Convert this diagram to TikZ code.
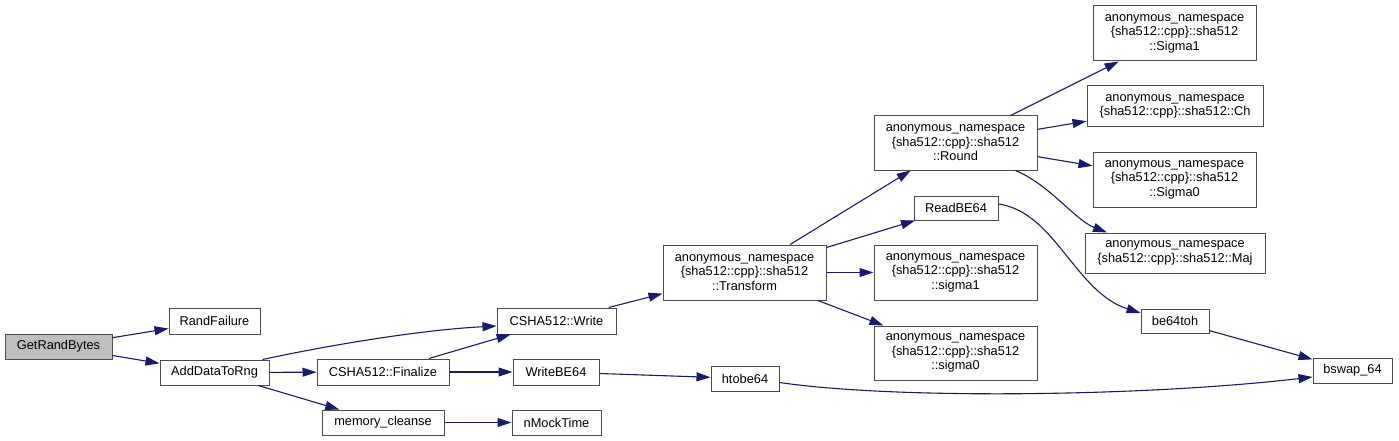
\documentclass[tikz,border=0pt]{standalone}
\usepackage{fontspec}
\setmainfont{Liberation Sans}
\usetikzlibrary{arrows.meta}
\definecolor{edgeblue}{RGB}{25,25,112}
\definecolor{rootgray}{RGB}{191,191,191}

\begin{document}
\begin{tikzpicture}[x=1pt, y=-1pt,
	fn/.style={draw=black!70, line width=1pt, fill=white, inner sep=0pt, align=center,
		font=\fontsize{12.8}{14.5}\selectfont},
	call/.style={draw=edgeblue, line width=1.1pt, -{Triangle[length=14pt,width=9pt]}, fill=none}]
	\useasboundingbox (0,0) rectangle (1399,441);

	% Left part
	\node[fn, fill=rootgray, minimum width=107, minimum height=25] (GetRandBytes) at (58.5,346.5) {GetRandBytes};
	\node[fn, minimum width=91, minimum height=26] (RandFailure) at (214.5,321) {RandFailure};
	\node[fn, minimum width=109, minimum height=25] (AddDataToRng) at (214.5,372.5) {AddDataToRng};

	% CSHA512 and helpers
	\node[fn, minimum width=119, minimum height=26] (Write) at (556.5,321) {CSHA512::Write};
	\node[fn, minimum width=132, minimum height=26] (Finalize) at (383,372) {CSHA512::Finalize};
	\node[fn, minimum width=86, minimum height=26] (WriteBE64) at (556,372) {WriteBE64};
	\node[fn, minimum width=122, minimum height=25] (memcleanse) at (383,422.5) {memory\_cleanse};
	\node[fn, minimum width=89, minimum height=25] (nMockTime) at (556.5,422.5) {nMockTime};
	\node[fn, minimum width=68, minimum height=25] (htobe64) at (745,378.5) {htobe64};

	% Transform and its callees
	\node[fn, minimum width=163, minimum height=55] (Transform) at (744.5,272.5)
		{anonymous\_namespace\\\{sha512::cpp\}::sha512\\::Transform};
	\node[fn, minimum width=163, minimum height=55] (sigmaone) at (955.5,272.5)
		{anonymous\_namespace\\\{sha512::cpp\}::sha512\\::sigma1};
	\node[fn, minimum width=163, minimum height=54] (sigmazero) at (955.5,353)
		{anonymous\_namespace\\\{sha512::cpp\}::sha512\\::sigma0};
	\node[fn, minimum width=163, minimum height=54] (Round) at (955.5,143)
		{anonymous\_namespace\\\{sha512::cpp\}::sha512\\::Round};
	\node[fn, minimum width=84, minimum height=24] (ReadBE64) at (956,208) {ReadBE64};

	% Round callees
	\node[fn, minimum width=163, minimum height=55] (Sigmaone) at (1174.5,33.5)
		{anonymous\_namespace\\\{sha512::cpp\}::sha512\\::Sigma1};
	\node[fn, minimum width=176, minimum height=41] (Ch) at (1175,106.5)
		{anonymous\_namespace\\\{sha512::cpp\}::sha512::Ch};
	\node[fn, minimum width=163, minimum height=55] (Sigmazero) at (1174.5,179.5)
		{anonymous\_namespace\\\{sha512::cpp\}::sha512\\::Sigma0};
	\node[fn, minimum width=180, minimum height=40] (Maj) at (1175,253)
		{anonymous\_namespace\\\{sha512::cpp\}::sha512::Maj};

	% Byte swapping
	\node[fn, minimum width=68, minimum height=24] (betoh) at (1175,321) {be64toh};
	\node[fn, minimum width=79, minimum height=25] (bswap) at (1352.5,370.5) {bswap\_64};

	% Calls
	\draw[call] (GetRandBytes) -- (RandFailure);
	\draw[call] (GetRandBytes) -- (AddDataToRng);
	\draw[call] ([xshift=-7pt]AddDataToRng.north east) .. controls (330,345) and (420,330) .. ([yshift=-5pt]Write.west);
	\draw[call] (AddDataToRng) -- (Finalize);
	\draw[call] (AddDataToRng) -- (memcleanse);
	\draw[call] (Finalize) -- (Write);
	\draw[call] (Finalize) -- (WriteBE64);
	\draw[call] (memcleanse) -- (nMockTime);
	\draw[call] (Write) -- (Transform);
	\draw[call] (WriteBE64) -- (htobe64);
	\draw[call] ([yshift=-4pt]htobe64.east) .. controls (900,400) and (1150,396) .. ([yshift=-6.5pt]bswap.west);

	\draw[call] (Transform) -- (Round);
	\draw[call] (Transform) -- (ReadBE64);
	\draw[call] (Transform) -- (sigmaone);
	\draw[call] (Transform) -- (sigmazero);

	\draw[call] (Round) -- (Sigmaone);
	\draw[call] (Round) -- (Ch);
	\draw[call] (Round) -- (Sigmazero);
	\draw[call] ([xshift=60pt]Round.south) .. controls (1050,185) and (1075,220) .. ([xshift=-68pt]Maj.north);

	\draw[call] ([yshift=4pt]ReadBE64.east) .. controls (1055,212) and (1075,292) .. ([yshift=8pt]betoh.west);
	\draw[call] (betoh) -- (bswap);
\end{tikzpicture}
\end{document}
